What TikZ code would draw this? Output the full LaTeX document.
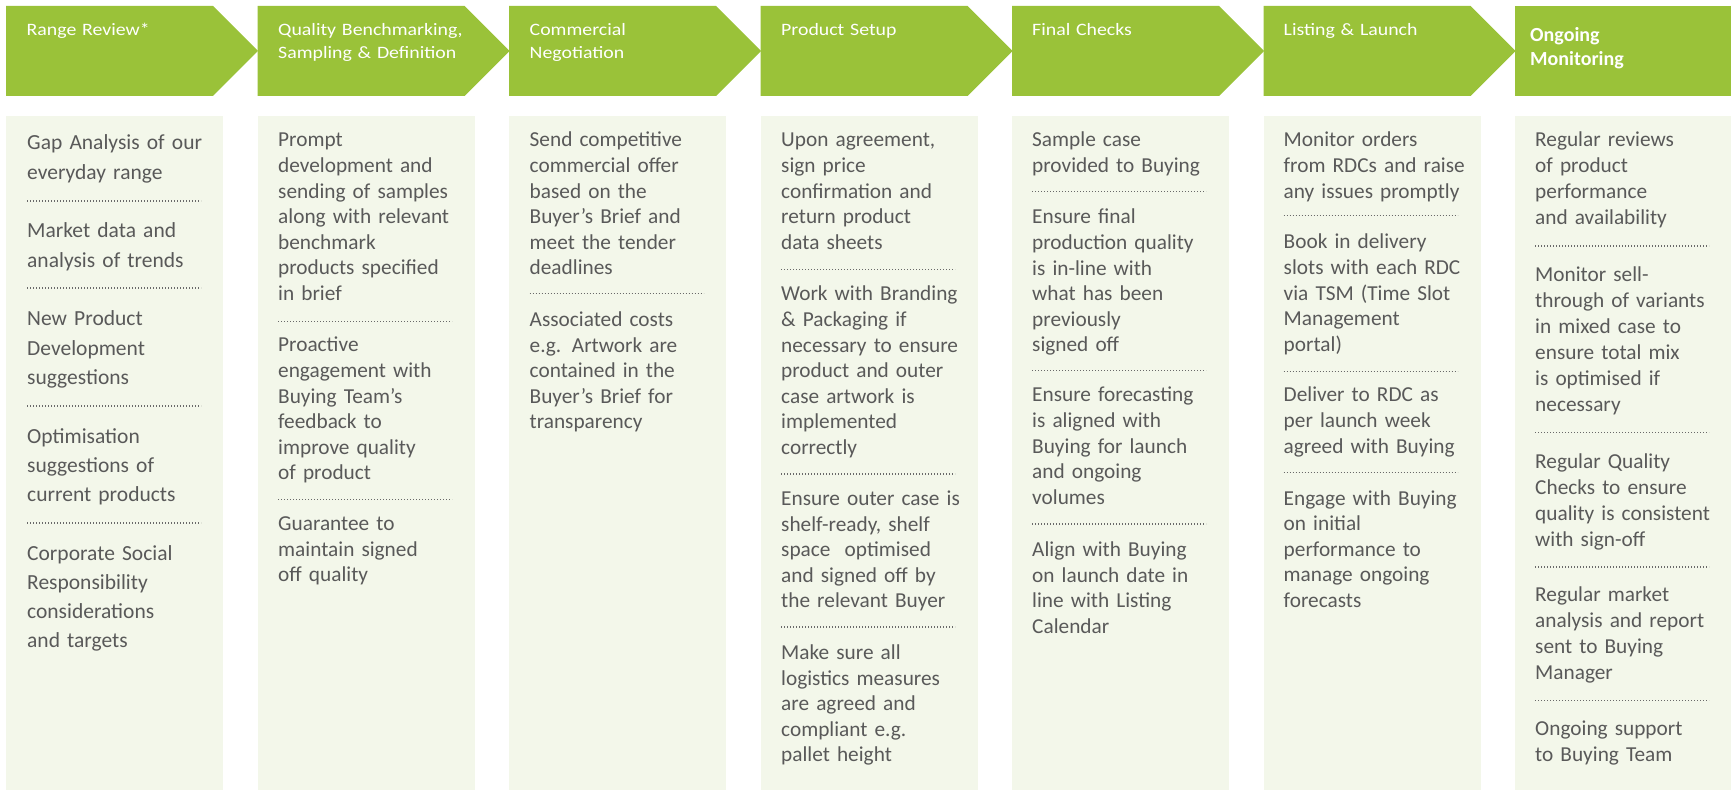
\documentclass[tikz,border=0pt]{standalone}
\usepackage{fontspec}
\setmainfont{Carlito}
\newfontfamily\headface{Carlito}[FakeStretch=1.14]
\definecolor{stageGreen}{RGB}{154,194,57}
\definecolor{paneFill}{RGB}{243,247,234}
\definecolor{bodyGray}{RGB}{89,89,89}
\definecolor{dotGray}{RGB}{105,105,105}

\begin{document}
\begin{tikzpicture}[x=1pt,y=-1pt,
  stage/.style={fill=stageGreen},
  pane/.style={fill=paneFill},
  head/.style={anchor=base west,inner sep=0pt,text width=205pt,align=left,
    text=white,font=\headface\fontsize{17.4}{23}\selectfont},
  lasthead/.style={head,font=\bfseries\fontsize{20}{24}\selectfont},
  firstitem/.style={anchor=base west,inner sep=0pt,text width=200pt,align=left,
    text=bodyGray,font=\fontsize{21.5}{29.3}\selectfont},
  item/.style={firstitem,font=\fontsize{21.3}{25.6}\selectfont},
  lastitem/.style={firstitem,font=\fontsize{21.3}{26}\selectfont},
  sepline/.style={draw=dotGray,line width=1.1pt,dash pattern=on 1.1pt off 1.9pt}]
\useasboundingbox (0,0) rectangle (1735,791);

% stage arrows
\fill [stage] (6,6) -- (213,6) -- (258,51) -- (213,96) -- (6,96) -- cycle;
\fill [stage] (257.5,6) -- (464.5,6) -- (509.5,51) -- (464.5,96) -- (257.5,96) -- cycle;
\fill [stage] (509,6) -- (716,6) -- (761,51) -- (716,96) -- (509,96) -- cycle;
\fill [stage] (760.5,6) -- (967.5,6) -- (1012.5,51) -- (967.5,96) -- (760.5,96) -- cycle;
\fill [stage] (1012,6) -- (1219,6) -- (1264,51) -- (1219,96) -- (1012,96) -- cycle;
\fill [stage] (1263.5,6) -- (1470.5,6) -- (1515.5,51) -- (1470.5,96) -- (1263.5,96) -- cycle;
\fill [stage] (1515,6) rectangle (1731,96);

\node [head] (rrHead) at (26.5,36) {Range Review*};
\node [head] (qbHead) at (278,36) {Quality Benchmarking,\\Sampling \& Definition};
\node [head] (cnHead) at (529.5,36) {Commercial\\Negotiation};
\node [head] (psHead) at (781,36) {Product Setup};
\node [head] (fcHead) at (1032,36) {Final Checks};
\node [head] (llHead) at (1283.5,36) {Listing \& Launch};
\node [lasthead] (omHead) at (1530,42) {Ongoing\\Monitoring};

% panes
\fill [pane] (6,116) rectangle (223,790);
\fill [pane] (257.5,116) rectangle (474.5,790);
\fill [pane] (509,116) rectangle (726,790);
\fill [pane] (760.5,116) rectangle (977.5,790);
\fill [pane] (1012,116) rectangle (1229,790);
\fill [pane] (1263.5,116) rectangle (1480.5,790);
\fill [pane] (1515,116) rectangle (1731,790);

% Range Review
\node [firstitem] (rr1) at (27,150) {Gap Analysis of our\\everyday range};
\draw [sepline] (27,201) -- (201,201);
\node [firstitem] (rr2) at (27,238) {Market data and\\analysis of trends};
\draw [sepline] (27,288) -- (201,288);
\node [firstitem] (rr3) at (27,326) {New Product\\Development\\suggestions};
\draw [sepline] (27,406) -- (201,406);
\node [firstitem] (rr4) at (27,443) {Optimisation\\suggestions of\\current products};
\draw [sepline] (27,523) -- (201,523);
\node [firstitem] (rr5) at (27,560) {Corporate Social\\Responsibility\\considerations\\and targets};

% Quality Benchmarking
\node [item] (qb1) at (278,147) {Prompt\\development and\\sending of samples\\along with relevant\\benchmark\\products specified\\in brief};
\draw [sepline] (278,321.5) -- (452,321.5);
\node [item] (qb2) at (278,352) {Proactive\\engagement with\\Buying Team’s\\feedback to\\improve quality\\of product};
\draw [sepline] (278,499.5) -- (452,499.5);
\node [item] (qb3) at (278,530.5) {Guarantee to\\maintain signed\\off quality};

% Commercial Negotiation
\node [item] (cn1) at (529.5,147) {Send competitive\\commercial offer\\based on the\\Buyer’s Brief and\\meet the tender\\deadlines};
\draw [sepline] (529.5,293.5) -- (703.5,293.5);
\node [item] (cn2) at (529.5,326.5) {Associated costs\\e.g. Artwork are\\contained in the\\Buyer’s Brief for\\transparency};

% Product Setup
\node [item] (ps1) at (781,147) {Upon agreement,\\sign price\\confirmation and\\return product\\data sheets};
\draw [sepline] (781,269.5) -- (955,269.5);
\node [item] (ps2) at (781,301) {Work with Branding\\\& Packaging if\\necessary to ensure\\product and outer\\case artwork is\\implemented\\correctly};
\draw [sepline] (781,474) -- (955,474);
\node [item] (ps3) at (781,505.5) {Ensure outer case is\\shelf-ready, shelf\\space~ optimised\\and signed off by\\the relevant Buyer};
\draw [sepline] (781,627) -- (955,627);
\node [item] (ps4) at (781,659.5) {Make sure all\\logistics measures\\are agreed and\\compliant e.g.\\pallet height};

% Final Checks
\node [item] (fc1) at (1032,147) {Sample case\\provided to Buying};
\draw [sepline] (1032,191.5) -- (1206,191.5);
\node [item] (fc2) at (1032,224) {Ensure final\\production quality\\is in-line with\\what has been\\previously\\signed off};
\draw [sepline] (1032,370.5) -- (1206,370.5);
\node [item] (fc3) at (1032,402) {Ensure forecasting\\is aligned with\\Buying for launch\\and ongoing\\volumes};
\draw [sepline] (1032,524) -- (1206,524);
\node [item] (fc4) at (1032,556.5) {Align with Buying\\on launch date in\\line with Listing\\Calendar};

% Listing & Launch
\node [item] (ll1) at (1283.5,147) {Monitor orders\\from RDCs and raise\\any issues promptly};
\draw [sepline] (1283.5,215.5) -- (1457.5,215.5);
\node [item] (ll2) at (1283.5,249) {Book in delivery\\slots with each RDC\\via TSM (Time Slot\\Management\\portal)};
\draw [sepline] (1283.5,371.5) -- (1457.5,371.5);
\node [item] (ll3) at (1283.5,402) {Deliver to RDC as\\per launch week\\agreed with Buying};
\draw [sepline] (1283.5,472.5) -- (1457.5,472.5);
\node [item] (ll4) at (1283.5,505) {Engage with Buying\\on initial\\performance to\\manage ongoing\\forecasts};

% Ongoing Monitoring
\node [lastitem] (om1) at (1535,147) {Regular reviews\\of product\\performance\\and availability};
\draw [sepline] (1535,246) -- (1709,246);
\node [lastitem] (om2) at (1535,281.5) {Monitor sell-\\through of variants\\in mixed case to\\ensure total mix\\is optimised if\\necessary};
\draw [sepline] (1535,432.5) -- (1709,432.5);
\node [lastitem] (om3) at (1535,468.5) {Regular Quality\\Checks to ensure\\quality is consistent\\with sign-off};
\draw [sepline] (1535,567) -- (1709,567);
\node [lastitem] (om4) at (1535,601) {Regular market\\analysis and report\\sent to Buying\\Manager};
\draw [sepline] (1535,700.5) -- (1709,700.5);
\node [lastitem] (om5) at (1535,735.5) {Ongoing support\\to Buying Team};
\end{tikzpicture}
\end{document}
